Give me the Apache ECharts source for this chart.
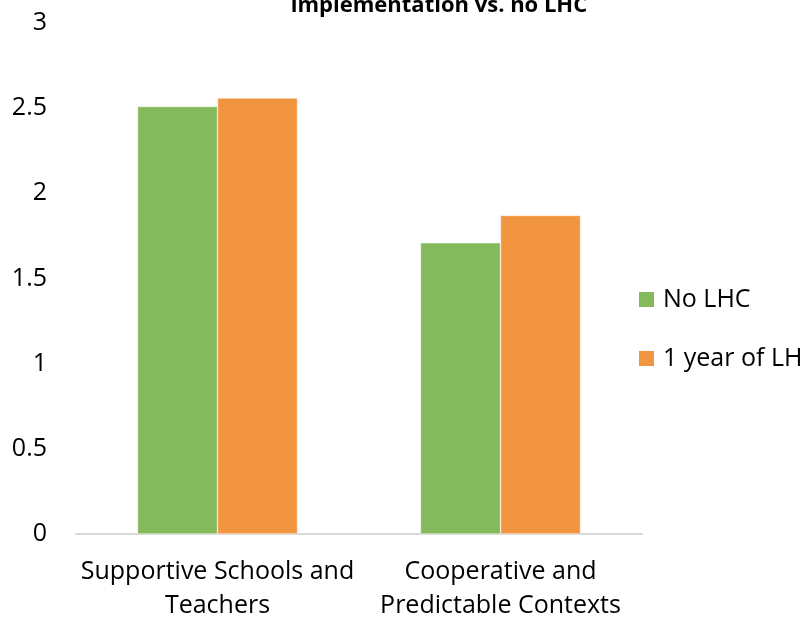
<!DOCTYPE html>
<html>
<head>
<meta charset="utf-8">
<script src="https://cdn.jsdelivr.net/npm/echarts@6/dist/echarts.min.js"></script>
<style>
html,body{margin:0;padding:0;background:#fff;overflow:hidden;}
#chart{width:803px;height:623px;}
</style>
</head>
<body>
<div id="chart"></div>
<script>
// Mean scores by context, before and after one year of LHC
const categories = ['Supportive Schools and\nTeachers', 'Cooperative and\nPredictable Contexts'];
const noLhc = [2.51, 1.71];
const oneYearLhc = [2.56, 1.87];
const yTicks = [0, 0.5, 1, 1.5, 2, 2.5, 3];

const font = '"Open Sans", "Liberation Sans", sans-serif';
const chart = echarts.init(document.getElementById('chart'));
chart.setOption({
  animation: false,
  title: {
    text: 'implementation vs. no LHC',
    left: 434,
    top: -10,
    textAlign: 'center',
    textStyle: { fontFamily: font, fontSize: 22, fontWeight: 'bold', color: '#000' }
  },
  legend: {
    orient: 'vertical',
    left: 632,
    top: 282,
    itemWidth: 17,
    itemHeight: 17,
    itemGap: 34,
    icon: 'rect',
    textStyle: { fontFamily: font, fontSize: 25, color: '#000', padding: [0, 0, 0, 3] },
    data: ['No LHC', '1 year of LHC']
  },
  grid: { left: 76, right: 161, top: 23, bottom: 85 },
  xAxis: {
    type: 'category',
    data: categories,
    axisLine: { lineStyle: { color: '#D9D9D9', width: 2 } },
    axisTick: { show: false },
    axisLabel: { interval: 0, fontFamily: font, fontSize: 25, color: '#000', lineHeight: 34, margin: 21 }
  },
  yAxis: {
    type: 'value',
    min: yTicks[0],
    max: yTicks[yTicks.length - 1],
    interval: 0.5,
    splitLine: { show: false },
    axisLine: { show: false },
    axisTick: { show: false },
    axisLabel: { fontFamily: font, fontSize: 25, color: '#000', margin: 29 }
  },
  series: [
    {
      name: 'No LHC',
      type: 'bar',
      data: noLhc,
      barWidth: 80,
      barGap: '0%',
      itemStyle: { color: '#84BA5B', borderColor: '#fff', borderWidth: 0.5 }
    },
    {
      name: '1 year of LHC',
      type: 'bar',
      data: oneYearLhc,
      barWidth: 80,
      barGap: '0%',
      itemStyle: { color: '#F29541', borderColor: '#fff', borderWidth: 0.5 }
    }
  ]
});
</script>
</body>
</html>
